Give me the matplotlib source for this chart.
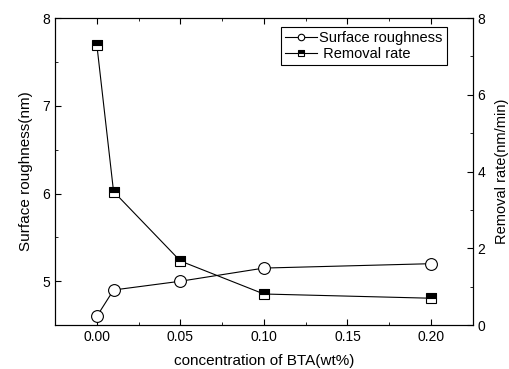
import matplotlib.pyplot as plt
from matplotlib.ticker import MultipleLocator

plt.rcParams['font.family'] = ['Liberation Sans', 'DejaVu Sans']

# data
bta = [0.00, 0.01, 0.05, 0.10, 0.20]
roughness = [4.6, 4.9, 5.0, 5.15, 5.2]
removal = [7.3, 3.48, 1.67, 0.81, 0.70]

fig = plt.figure(figsize=(5.1, 3.69), dpi=100)
ax = fig.add_axes([0.108, 0.119, 0.819, 0.832])
ax2 = ax.twinx()

l1, = ax.plot(bta, roughness, color='black', lw=0.8, marker='o', markersize=8.5,
              markerfacecolor='white', markeredgecolor='black', markeredgewidth=0.8,
              label='Surface roughness')
l2, = ax2.plot(bta, removal, color='black', lw=0.8, marker='s', markersize=7.5,
               fillstyle='top', markerfacecolor='black', markerfacecoloralt='white',
               markeredgecolor='black', markeredgewidth=0.8, label='Removal rate')

ax.set_xlim(-0.025, 0.225)
ax.set_ylim(4.5, 8)
ax2.set_ylim(0, 8)

ax.xaxis.set_major_locator(MultipleLocator(0.05))
ax.xaxis.set_minor_locator(MultipleLocator(0.025))
ax.yaxis.set_major_locator(MultipleLocator(1))
ax.yaxis.set_minor_locator(MultipleLocator(0.5))
ax2.yaxis.set_major_locator(MultipleLocator(2))
ax2.yaxis.set_minor_locator(MultipleLocator(1))
ax.xaxis.set_major_formatter(lambda v, p: f'{v:.2f}')

ax.tick_params(axis='x', which='both', direction='in', top=True, labelsize=10)
ax.tick_params(axis='y', which='both', direction='in', labelsize=10)
ax2.tick_params(axis='y', which='both', direction='in', labelsize=10)
ax.tick_params(which='major', length=4)
ax.tick_params(which='minor', length=2.5)
ax2.tick_params(which='major', length=4)
ax2.tick_params(which='minor', length=2.5)

ax.set_xlabel('concentration of BTA(wt%)', fontsize=11, labelpad=7)
ax.set_ylabel('Surface roughness(nm)', fontsize=11, labelpad=7)
ax2.set_ylabel('Removal rate(nm/min)', fontsize=10.5, labelpad=7)

leg = ax.legend([l1, l2], ['Surface roughness', ' Removal rate'], loc='upper right',
                bbox_to_anchor=(0.955, 0.995), fontsize=10.5, handlelength=2.2,
                handletextpad=0.1, borderpad=0.3, labelspacing=0.1,
                fancybox=False, edgecolor='black', framealpha=1, markerscale=0.55)
leg.get_frame().set_linewidth(0.8)

fig.savefig('out.png', dpi=100)
